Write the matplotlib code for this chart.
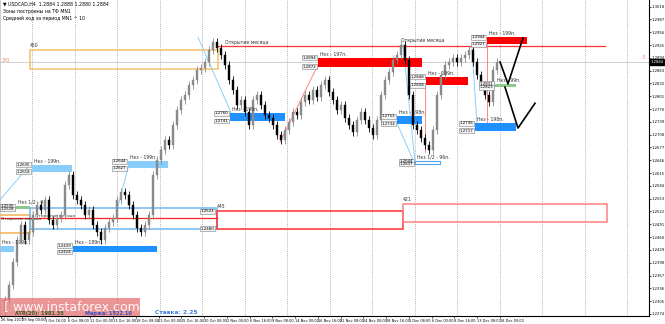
import matplotlib
matplotlib.use("Agg")
import matplotlib.pyplot as plt
import numpy as np
from matplotlib.patches import Rectangle

# USDCAD H4, one value per 12h bar (closes)
closes = [1.2308, 1.2344, 1.2400, 1.2453, 1.2489, 1.2453, 1.2472, 1.2514, 1.2538, 1.2526,
          1.2550, 1.2501, 1.2489, 1.2506, 1.2514, 1.2586, 1.2610, 1.2562, 1.2550, 1.2538,
          1.2514, 1.2526, 1.2489, 1.2472, 1.2453, 1.2482, 1.2497, 1.2506, 1.2550, 1.2569,
          1.2562, 1.2538, 1.2514, 1.2482, 1.2472, 1.2489, 1.2514, 1.2610, 1.2647, 1.2671,
          1.2695, 1.2683, 1.2731, 1.2768, 1.2792, 1.2804, 1.2828, 1.2840, 1.2864, 1.2869,
          1.2884, 1.2913, 1.2932, 1.2918, 1.2901, 1.2877, 1.2840, 1.2816, 1.2780, 1.2792,
          1.2763, 1.2731, 1.2792, 1.2804, 1.2780, 1.2756, 1.2748, 1.2731, 1.2707, 1.2695,
          1.2719, 1.2739, 1.2763, 1.2756, 1.2787, 1.2804, 1.2792, 1.2816, 1.2799, 1.2828,
          1.2840, 1.2811, 1.2792, 1.2768, 1.2780, 1.2748, 1.2731, 1.2714, 1.2744, 1.2763,
          1.2744, 1.2724, 1.2707, 1.2744, 1.2804, 1.2840, 1.2860, 1.2889, 1.2901, 1.2925,
          1.2889, 1.2804, 1.2731, 1.2719, 1.2700, 1.2683, 1.2671, 1.2719, 1.2804, 1.2852,
          1.2877, 1.2884, 1.2894, 1.2884, 1.2894, 1.2901, 1.2913, 1.2884, 1.2852, 1.2828,
          1.2804, 1.2787, 1.2864, 1.2884]
first_open = 1.2280
last_price = 1.2884

time_labels = ["26 Sep 2017", "29 Sep 00:00", "3 Oct 16:00", "6 Oct 08:00", "11 Oct 00:00",
               "13 Oct 16:00", "18 Oct 08:00", "23 Oct 00:00", "25 Oct 16:00", "30 Oct 08:00",
               "2 Nov 00:00", "6 Nov 16:00", "9 Nov 08:00", "14 Nov 00:00", "16 Nov 16:00",
               "21 Nov 08:00", "24 Nov 00:00", "28 Nov 16:00", "1 Dec 08:00", "6 Dec 00:00",
               "8 Dec 16:00", "13 Dec 08:00", "18 Dec 00:00"]

# filled zones: label, start bar, end bar, top price, bottom price, kind
zone_labels = ["Нкз - 199п.", "Нкз - 199п.", "Нкз - 189п.", "Нкз - 199п.", "Нкз 1/2 - 9",
               "Нкз - 199п.", "Нкз - 197п.", "Нкз - 198п.", "Нкз - 199п.", "Нкз - 199п.",
               "Нкз - 99п.", "Нкз - 198п.", "Нкз 1/2 - 96п."]
zone_x0 = [6.75, 30.75, 17, -1.25, 2.75, 56.25, 78.25, 98, 105.25, 120.5, 122.5, 117.5, 102.5]
zone_x1 = [16.75, 40.75, 38, 2.25, 6.25, 70, 104.25, 104.25, 115.75, 130.5, 127.75, 127.75, 108.75]
zone_top = [1.2635, 1.2644, 1.2439, 1.2439, 1.2535, 1.2760, 1.2894, 1.2753, 1.2848, 1.2944,
            1.2831, 1.2736, 1.2644]
zone_bot = [1.2618, 1.2627, 1.2424, 1.2424, 1.2528, 1.2741, 1.2872, 1.2734, 1.2828, 1.2927,
            1.2823, 1.2717, 1.2637]
zone_kind = ["light", "light", "blue", "light", "green", "blue", "red", "blue", "red", "red",
             "green", "blue", "outline"]

# outlined ranges: start bar, end bar, top, bottom, caption
range_x0 = [6.25, -2, 6.25, 53, 99.5]
range_x1 = [53.25, 6.25, 53, 99.5, 150.5]
range_top = [1.2913, 1.2514, 1.2531, 1.2523, 1.2540]
range_bot = [1.2867, 1.2470, 1.2480, 1.2480, 1.2497]
range_text = ["450", "", "", "445", "421"]
range_color = ["#f7c06a", "#f7b24a", "#6fb6f2", "#ff3030", "#ff8080"]

month_open = 1.2923
month_open_x = [53.25, 150]
mid_line = 1.2506

red_lines = [[(68.75, 1.2690), (78.25, 1.2877)],
             [(105, 1.2828), (105, 1.2666)],
             [(120.5, 1.2927), (120.5, 1.2731)]]
blue_lines = [[(-1.25, 1.2550), (6.25, 1.2635)],
              [(28, 1.2526), (30.75, 1.2627)],
              [(48.25, 1.2944), (56.75, 1.2756)],
              [(99.5, 1.2925), (102.5, 1.2642)],
              [(98, 1.2736), (102, 1.2647)],
              [(116.75, 1.2918), (118, 1.2731)]]
forecast_1 = [(123.75, 1.2884), (125.75, 1.2831), (129.5, 1.2942)]
forecast_2 = [(125, 1.2823), (128.25, 1.2724), (132.5, 1.2784)]

zone_fill = {"light": "#87cefa", "blue": "#1e90ff", "red": "#ff0000", "green": "#8cc98c"}
tag_box = dict(boxstyle="square,pad=0.12", fc="#f4f4f4", ec="#808080", lw=0.4)

fig = plt.figure(figsize=(6.65, 3.24), dpi=100)
ax = fig.add_axes([0, 8 / 324, 649 / 665, 316 / 324])
ax.set_xlim(-1.25, 161.0)
ax.set_ylim(1.2269, 1.3034)

# vertical dotted grid
for gx in np.arange(6.75, 161, 10.625):
    ax.axvline(gx, color="#9a9a9a", lw=0.6, ls=(0, (1, 1.5)), zorder=0)
ax.axhline(last_price, color="#c8c8c8", lw=0.6, zorder=0)

# outlined ranges
for x0, x1, t, b, txt, c in zip(range_x0, range_x1, range_top, range_bot, range_text, range_color):
    ax.add_patch(Rectangle((x0, b), x1 - x0, t - b, fill=False, ec=c, lw=1.1, zorder=1))
    if txt:
        ax.text(x0, t + 0.0004, txt, fontsize=3.3, color="#333333", va="bottom")
ax.plot([-1.25, 53], [mid_line, mid_line], color="#ff2020", lw=0.9, zorder=1)
ax.plot(month_open_x, [month_open, month_open], color="#ff3030", lw=0.9, zorder=1)
ax.text(55, month_open + 0.0003, "Открытие месяца", fontsize=3.3, color="#333333", va="bottom")
ax.text(99, month_open + 0.0006, "Открытие месяца", fontsize=3.3, color="#333333", va="bottom")
ax.text(-1, mid_line - 0.0002, "Открытие месяца", fontsize=3.1, color="#333333", va="center")
ax.text(7.5, mid_line + 0.0006, "Открытие месяца", fontsize=3.1, color="#333333", va="center")
ax.text(-0.8, 1.2889, "3/0", fontsize=3.8, color="#f08060", va="center")

for seg in red_lines:
    ax.plot(*zip(*seg), color="#ff7070", lw=0.6, zorder=1)
for seg in blue_lines:
    ax.plot(*zip(*seg), color="#87cefa", lw=0.7, zorder=1)

# zones
for lab, x0, x1, t, b, k in zip(zone_labels, zone_x0, zone_x1, zone_top, zone_bot, zone_kind):
    if k == "outline":
        ax.add_patch(Rectangle((x0, b), x1 - x0, t - b, fill=False, ec="#4aa3f0", lw=0.8, zorder=2))
    else:
        ax.add_patch(Rectangle((x0, b), x1 - x0, t - b, fc=zone_fill[k], ec="none", zorder=2))
    ax.text(x0 + 0.5, t + 0.0003, lab, fontsize=3.3, color="#333333", va="bottom", zorder=5)
    if x0 < 0:
        continue  # price tags of this zone sit left of the visible chart
    for p in (t, b):
        ax.text(x0 - 0.4, p, f"{p:.4f}", fontsize=2.8, ha="right", va="center", zorder=5,
                bbox=tag_box)
for p in (range_top[3], range_bot[3]):
    ax.text(52.3, p, f"{p:.4f}", fontsize=2.8, ha="right", va="center", zorder=5, bbox=tag_box)

# candles
opens = [first_open] + closes[:-1]
wick = 0.0010  # drawing style, wick length beyond body
for i, (o, c) in enumerate(zip(opens, closes)):
    col = "#8a8a8a" if c >= o else "black"
    lo, hi = min(o, c), max(o, c)
    ax.vlines(i, lo - wick, hi + wick, color=col, lw=0.6, zorder=3)
    ax.add_patch(Rectangle((i - 0.3, lo), 0.6, max(hi - lo, 0.00008), fc=col, ec=col, lw=0.3, zorder=3))

ax.plot(*zip(*forecast_1), color="black", lw=1.2, zorder=4)
ax.plot(*zip(*forecast_2), color="black", lw=1.2, zorder=4)

# axes styling
ax.yaxis.tick_right()
yt = np.round(1.2274 + 0.0031 * np.arange(25), 4)
ax.set_yticks(yt)
ax.set_yticklabels([f"{v:.4f}" for v in yt], fontsize=2.7)
ax.set_xticks([-1.0] + list(4.25 + 5.6875 * np.arange(len(time_labels) - 1)))
ax.set_xticklabels(time_labels, fontsize=2.5, ha="left")
ax.tick_params(length=1.2, width=0.5, pad=0.6)
ax.spines["top"].set_visible(False)
for s in ("right", "bottom"):
    ax.spines[s].set_linewidth(0.8)
ax.spines["left"].set_color("#bbbbbb")
ax.spines["left"].set_linewidth(0.5)

ax.annotate(f"{last_price:.4f}", xy=(1.0, last_price), xycoords=("axes fraction", "data"),
            xytext=(1.2, 0), textcoords="offset points", fontsize=2.7, color="white",
            va="center", ha="left", bbox=dict(boxstyle="square,pad=0.15", fc="black", ec="black"))
ax.text(0.988, last_price + 0.0012, "3", transform=ax.get_yaxis_transform(), fontsize=3.8,
        color="#f08060", va="center")

# header
fig.text(3 / 665, 1 - 4 / 324, "▼ USDCAD,H4  1.2884 1.2888 1.2880 1.2884", fontsize=3.3, va="center")
fig.text(3 / 665, 1 - 11 / 324, "Зоны построены на ТФ MN1", fontsize=3.3, va="center")
fig.text(3 / 665, 1 - 18 / 324, "Средний ход за период MN1 ^ 10", fontsize=3.3, va="center")

# watermark
fig.patches.append(Rectangle((0, 8 / 324), 140 / 665, 18 / 324, transform=fig.transFigure,
                             fc="#e57373", alpha=0.75, ec="none", zorder=6))
fig.text(4 / 665, 17 / 324, "[ www.instaforex.com", fontsize=9, color="white", alpha=0.9,
         va="center", zorder=7)
fig.text(15 / 665, 11 / 324, "ATR(20): 1981.35", fontsize=3.6, color="#3a5a2a", va="center",
         weight="bold", zorder=8)
fig.text(85 / 665, 11 / 324, "Маржа: 1522.10", fontsize=3.6, color="#3050c0", va="center",
         weight="bold", zorder=8)
fig.text(155 / 665, 11 / 324, "Ставка: 2.25", fontsize=4.2, color="#3a7be0", va="center",
         weight="bold", zorder=8)

fig.savefig("out.png", dpi=100)
